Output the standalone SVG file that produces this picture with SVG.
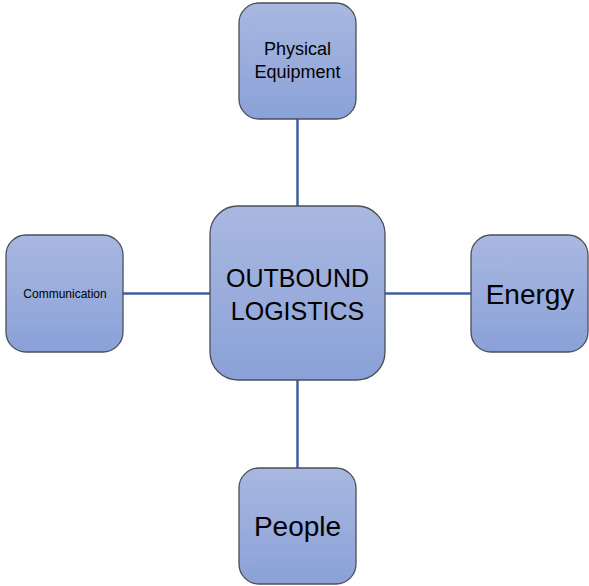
<svg xmlns="http://www.w3.org/2000/svg" width="589" height="586" viewBox="0 0 589 586">
<defs>
<linearGradient id="g" x1="0" y1="0" x2="0" y2="1">
<stop offset="0" stop-color="#A9B8E0"/>
<stop offset="1" stop-color="#8AA1D8"/>
</linearGradient>
</defs>
<style>
.box{fill:url(#g);stroke:#4a4f5a;stroke-width:1.3}
.t{font-family:"Liberation Sans",Arial,sans-serif;fill:#000;text-anchor:middle}
.c{stroke:#3E5FA2;stroke-width:2.5;fill:none}
</style>
<rect width="589" height="586" fill="#fff"/>
<g id="connectors">
<line class="c" x1="297.5" y1="119" x2="297.5" y2="206"/>
<line class="c" x1="297.5" y1="380" x2="297.5" y2="468"/>
<line class="c" x1="123" y1="293.5" x2="210" y2="293.5"/>
<line class="c" x1="385" y1="293.5" x2="471" y2="293.5"/>
</g>
<g id="center">
<rect class="box" x="210" y="206" width="175" height="174" rx="28"/>
<text class="t" x="297.5" y="287" font-size="25">OUTBOUND</text>
<text class="t" x="297.5" y="320" font-size="25">LOGISTICS</text>
</g>
<g id="physical">
<rect class="box" x="239" y="3" width="117" height="116" rx="20"/>
<text class="t" x="297.5" y="55" font-size="18">Physical</text>
<text class="t" x="297.5" y="78" font-size="18">Equipment</text>
</g>
<g id="communication">
<rect class="box" x="6" y="235" width="117" height="117" rx="20"/>
<text class="t" x="65" y="298" font-size="12">Communication</text>
</g>
<g id="energy">
<rect class="box" x="471" y="235" width="117" height="117" rx="20"/>
<text class="t" x="530" y="304" font-size="28">Energy</text>
</g>
<g id="people">
<rect class="box" x="239" y="468" width="117" height="116" rx="20"/>
<text class="t" x="297.5" y="536" font-size="28">People</text>
</g>
</svg>
